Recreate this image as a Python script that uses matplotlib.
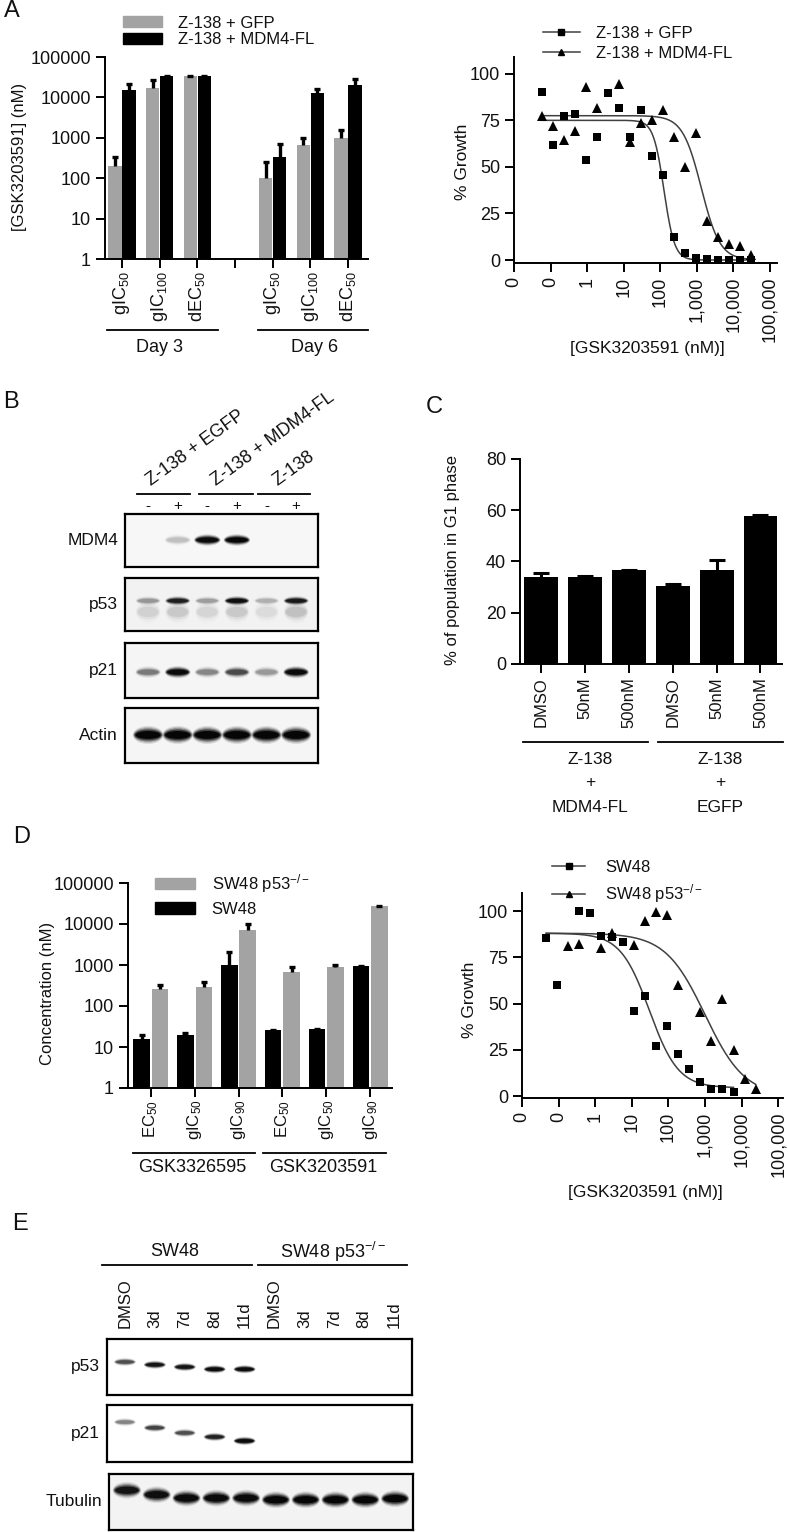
import numpy as np
import matplotlib
matplotlib.use('Agg')
import matplotlib.pyplot as plt
from matplotlib.patches import Ellipse, Patch
from matplotlib.lines import Line2D
from matplotlib.ticker import NullLocator, LogLocator

# ---------------- data ----------------
# A left: GSK3203591 potency in Z-138 cells (nM)
a_metrics = ['gIC$_{50}$', 'gIC$_{100}$', 'dEC$_{50}$']
a_days = ['Day 3', 'Day 6']
a_gfp = [204, 17000, 33000, 103, 660, 970]
a_gfp_hi = [330, 27700, 33000, 247, 1000, 1600]
a_mdm4 = [15500, 33000, 33000, 340, 12500, 20000]
a_mdm4_hi = [22000, 33000, 33000, 700, 16500, 29000]

# A right: dose response (nM, % growth)
a_dose = [0.057, 0.114, 0.229, 0.458, 0.916, 1.83, 3.66, 7.32, 14.6, 29.3,
          58.6, 117, 234, 469, 938, 1875, 3750, 7500, 15000, 30000]
a_gfp_growth = [90.3, 61.5, 77.4, 78.3, 53.8, 66.1, 89.6, 81.4, 65.8, 80.3,
                56.1, 45.5, 12.5, 3.9, 1.3, 0.4, 0.0, 0.0, 0.0, 0.0]
a_mdm4_dose = [0.057, 0.114, 0.229, 0.458, 0.916, 1.83, 7.32, 14.6, 29.3,
               58.6, 117, 234, 469, 938, 1875, 3750, 7500, 15000, 30000]
a_mdm4_growth = [77.1, 71.7, 64.5, 69.0, 92.8, 81.5, 94.6, 63.1, 73.8,
                 75.3, 80.6, 66.3, 50.2, 68.1, 21.0, 12.2, 8.4, 7.5, 2.5]
# fitted curves: top, bottom, logEC50, hill slope
a_gfp_fit = (75, 0, 2.1, 3.0)
a_mdm4_fit = (77.5, 0, 3.12, 1.7)
a_legend = ['Z-138 + GFP', 'Z-138 + MDM4-FL']

# B: western blot band strengths (0 = none, 1 = saturated)
b_groups = ['Z-138 + EGFP', 'Z-138 + MDM4-FL', 'Z-138']
b_treat = ['-', '+', '-', '+', '-', '+']
b_rows = ['MDM4', 'p53', 'p21', 'Actin']
b_mdm4 = [0, 0.12, 0.95, 1.0, 0, 0]
b_p53 = [0.22, 0.75, 0.2, 0.9, 0.15, 0.8]
b_p53_lower = [0.07, 0.09, 0.06, 0.09, 0.05, 0.11]
b_p21 = [0.32, 0.95, 0.28, 0.5, 0.22, 0.95]
b_actin = [1, 1, 1, 1, 1, 1]

# C: % of cells in G1
c_labels = ['DMSO', '50nM', '500nM', 'DMSO', '50nM', '500nM']
c_groups = [['Z-138', '+', 'MDM4-FL'], ['Z-138', '+', 'EGFP']]
c_values = [33.9, 33.9, 36.5, 30.6, 36.5, 57.6]
c_err = [1.6, 0.3, 0.3, 0.5, 4.2, 0.5]

# D left: concentrations (nM)
d_metrics = ['EC$_{50}$', 'gIC$_{50}$', 'gIC$_{90}$']
d_compounds = ['GSK3326595', 'GSK3203591']
d_sw48 = [15.7, 19.3, 1000, 25.5, 28, 930]
d_sw48_hi = [20, 22, 2080, 26, 28, 950]
d_null = [258, 290, 7000, 675, 890, 27000]
d_null_hi = [330, 377, 10000, 890, 980, 27000]
d_legend = ['SW48 p53$^{-/-}$', 'SW48']

# D right: dose response
d_sw48_dose = [0.046, 0.092, 0.366, 0.732, 1.46, 2.93, 5.86, 11.7, 23.4,
               46.9, 93.8, 188, 375, 750, 1500, 3000, 6000]
d_sw48_growth = [85.6, 60.3, 100, 99.1, 86.5, 86, 83.3, 45.9, 54.1,
                 27, 38, 23, 14.6, 7.4, 3.8, 3.6, 2.3]
d_null_dose = [0.183, 0.366, 1.46, 2.93, 11.7, 23.4, 46.9, 93.8, 188,
               750, 1500, 3000, 6000, 12000, 24000]
d_null_growth = [81, 82, 80.2, 88.1, 81.8, 94.4, 99.5, 97.7, 59.9,
                 45.5, 29.7, 52.3, 24.8, 9.5, 4.1]
d_sw48_fit = (88, 4.5, 1.48, 1.1)
d_null_fit = (88, 0, 3.0, 0.8)
d_curve_legend = ['SW48', 'SW48 p53$^{-/-}$']

# E: western blot
e_groups = ['SW48', 'SW48 p53$^{-/-}$']
e_lanes = ['DMSO', '3d', '7d', '8d', '11d'] * 2
e_rows = ['p53', 'p21', 'Tubulin']
e_p53 = [0.5, 0.85, 0.85, 0.95, 0.95, 0, 0, 0, 0, 0]
e_p21 = [0.3, 0.55, 0.5, 0.75, 0.95, 0, 0, 0, 0, 0]
e_tubulin = [0.85, 0.9, 0.95, 0.95, 0.95, 1, 1, 1, 1, 1]

# band heights inside each blot (fraction from bottom), layout only
E_P53_Y = [0.59, 0.54, 0.5, 0.46, 0.46, .5, .5, .5, .5, .5]
E_P21_Y = [0.70, 0.60, 0.51, 0.44, 0.37, .5, .5, .5, .5, .5]
E_TUB_Y = [0.71, 0.63, 0.57, 0.57, 0.57, 0.54, 0.54, 0.54, 0.54, 0.56]

# ---------------- style ----------------
plt.rcParams['font.family'] = ['Liberation Sans', 'DejaVu Sans']
plt.rcParams['mathtext.fontset'] = 'custom'
plt.rcParams['mathtext.rm'] = 'Liberation Sans'
plt.rcParams['mathtext.it'] = 'Liberation Sans:italic'
plt.rcParams['mathtext.bf'] = 'Liberation Sans:bold'
plt.rcParams['text.color'] = '#111111'
plt.rcParams['axes.linewidth'] = 1.4
for a in ('xtick', 'ytick'):
    plt.rcParams[a + '.major.width'] = 1.4
    plt.rcParams[a + '.major.size'] = 6.5
    plt.rcParams[a + '.labelsize'] = 13
    plt.rcParams[a + '.color'] = 'black'
    plt.rcParams[a + '.labelcolor'] = '#111111'

GREY = '#a3a3a3'
CURVE = '#404040'
W, H = 788, 1532

fig = plt.figure(figsize=(W / 100, H / 100), dpi=100)


def add_box(l, t, r, b):
    return fig.add_axes([l / W, 1 - b / H, (r - l) / W, (b - t) / H])


def put(x, y, s, **kw):
    kw.setdefault('ha', 'center')
    kw.setdefault('va', 'center')
    return fig.text(x / W, 1 - y / H, s, **kw)


def rule(x0, x1, y, lw=1.3):
    fig.add_artist(Line2D([x0 / W, x1 / W], [1 - y / H] * 2, color='black', lw=lw))


def clean(ax):
    ax.spines[['top', 'right']].set_visible(False)


def up_errors(ax, x, vals, his, capsize, lw):
    vals = np.asarray(vals, float)
    his = np.asarray(his, float)
    eb = ax.errorbar(x, vals, yerr=[np.zeros_like(vals), his - vals], fmt='none',
                     ecolor='black', elinewidth=lw, capsize=capsize, capthick=lw, zorder=3)
    for cl in eb[1]:
        if np.allclose(cl.get_ydata(), vals) and not np.allclose(his, vals):
            cl.set_visible(False)


def hill(dose, top, bottom, log_ec50, slope):
    return bottom + (top - bottom) / (1 + 10 ** ((np.log10(dose) - log_ec50) * slope))


def dose_axes(ax, top_lim):
    ax.set_xscale('log')
    ax.set_xlim(0.01, top_lim)
    ax.set_xticks([0.01, 0.1, 1, 10, 100, 1e3, 1e4, 1e5],
                  ['0', '0', '1', '10', '100', '1,000', '10,000', '100,000'], rotation=90)
    ax.xaxis.set_minor_locator(NullLocator())
    ax.set_yticks([0, 25, 50, 75, 100])
    clean(ax)


def blot(l, t, r, b, n, bg='white'):
    ax = add_box(l, t, r, b)
    ax.set_facecolor(bg)
    ax.set_xlim(0.22, n + 0.74)
    ax.set_ylim(0, 1)
    ax.set_xticks([])
    ax.set_yticks([])
    for s in ax.spines.values():
        s.set_linewidth(1.6)
    return ax


# soft band: stacked translucent ellipses (width scale, height scale, alpha)
BAND_LAYERS = [(1.06, 1.5, 0.10), (1.03, 1.3, 0.16), (1.0, 1.1, 0.28),
               (0.95, 0.9, 0.5), (0.88, 0.65, 0.9)]


def bands(ax, strengths, ys, width, thick):
    for i, (s, y) in enumerate(zip(strengths, ys)):
        if s <= 0:
            continue
        for ws, hs, a in BAND_LAYERS:
            ax.add_patch(Ellipse((i + 1, y), width * ws, thick * hs, facecolor='black',
                                 alpha=min(1.0, a * s), lw=0))


def row_label(ax, s, dx=-5):
    ax.annotate(s, (0, 0.5), xycoords='axes fraction', xytext=(dx, 0),
                textcoords='offset points', ha='right', va='center', fontsize=12.5)


# ---------------- A left ----------------
ax = add_box(105, 57, 368, 259)
ax.set_yscale('log')
pos = np.concatenate([np.arange(3), np.arange(3) + 4])
ax.bar(pos - 0.185, a_gfp, 0.35, color=GREY, zorder=2)
ax.bar(pos + 0.185, a_mdm4, 0.35, color='black', zorder=2)
up_errors(ax, pos - 0.185, a_gfp, a_gfp_hi, 2, 2.4)
up_errors(ax, pos + 0.185, a_mdm4, a_mdm4_hi, 2, 2.4)
ax.set_ylim(1, 1e5)
ax.set_xlim(-0.45, 6.53)
ax.set_yticks([1, 10, 100, 1000, 10000, 100000],
              ['1', '10', '100', '1000', '10000', '100000'])
ax.yaxis.set_minor_locator(NullLocator())
ax.set_xticks(range(7), a_metrics + [''] + a_metrics, rotation=90)
ax.tick_params(axis='x', pad=2)
clean(ax)
ax.legend([Patch(color=GREY), Patch(color='black')], a_legend,
          loc='upper left', bbox_to_anchor=(123 / W, 1 - 15.5 / H), bbox_transform=fig.transFigure,
          frameon=False, borderpad=0, borderaxespad=0, handlelength=2.35, handleheight=0.6,
          handletextpad=0.95, labelspacing=0.1, fontsize=12)
put(20, 157, '[GSK3203591] (nM)', rotation=90, fontsize=12)
rule(107, 218, 330)
rule(258, 368, 330)
put(160, 348, a_days[0], fontsize=13)
put(315, 348, a_days[1], fontsize=13)
put(12, 11, 'A', fontsize=17)

# ---------------- A right ----------------
ax = add_box(514, 57, 777, 262.8)
dose_axes(ax, 10 ** 5.19)
ax.set_ylim(-1.5, 109)
for d, fit in ((a_dose, a_gfp_fit), (a_mdm4_dose, a_mdm4_fit)):
    xs = np.geomspace(min(d), max(d), 300)
    ax.plot(xs, hill(xs, *fit), color=CURVE, lw=1.1, zorder=2)
ax.plot(a_dose, a_gfp_growth, 's', color='black', ms=5.5, mew=0, zorder=3)
ax.plot(a_mdm4_dose, a_mdm4_growth, '^', color='black', ms=6.5, mew=0, zorder=3)
hs = [Line2D([], [], color=CURVE, lw=1.1, marker='s', mfc='black', mec='black', ms=4),
      Line2D([], [], color=CURVE, lw=1.1, marker='^', mfc='black', mec='black', ms=4.5)]
ax.legend(hs, a_legend, loc='upper left', bbox_to_anchor=(543 / W, 1 - 25.5 / H),
          bbox_transform=fig.transFigure, frameon=False, borderpad=0, borderaxespad=0,
          handlelength=2.2, handletextpad=1.0, labelspacing=0.3, fontsize=12)
put(463, 162, '% Growth', rotation=90, fontsize=12.5)
put(647, 348, '[GSK3203591 (nM)]', fontsize=12.5)

# ---------------- B ----------------
put(11, 402, 'B', fontsize=17)
bx = [blot(125, 514, 318, 567, 6, '#f7f7f7'), blot(125, 578, 318, 631, 6, '#f2f2f2'),
      blot(125, 643, 318, 698, 6, '#f5f5f5'), blot(125, 708, 318, 763, 6, '#f5f5f5')]
bands(bx[0], b_mdm4, [0.51] * 6, 0.85, 0.15)
bands(bx[1], b_p53_lower, [0.36] * 6, 0.8, 0.3)
bands(bx[1], b_p53, [0.57] * 6, 0.8, 0.12)
bands(bx[2], b_p21, [0.47] * 6, 0.82, 0.15)
bands(bx[3], b_actin, [0.51] * 6, 0.97, 0.22)
for a_, s in zip(bx, b_rows):
    row_label(a_, s)
bx[0].set_xticks(range(1, 7), b_treat)
bx[0].tick_params(axis='x', top=True, bottom=False, labeltop=True, labelbottom=False,
                  length=0, pad=1, labelsize=11)
rule(137, 190, 494)
rule(199, 253, 494)
rule(258, 310, 494)
for (x0, y0), s in zip([(153, 489), (218, 489), (280, 489)], b_groups):
    put(x0, y0, s, rotation=36, rotation_mode='anchor', ha='left', va='bottom', fontsize=13)

# ---------------- C ----------------
put(434, 407, 'C', fontsize=17)
ax = add_box(520, 459, 782, 664)
xc = np.arange(len(c_values))
ax.bar(xc, c_values, 0.77, color='black', zorder=2)
up_errors(ax, xc, c_values, np.add(c_values, c_err), 5.5, 2.2)
ax.set_ylim(0, 80)
ax.set_xlim(-0.48, 5.49)
ax.set_yticks([0, 20, 40, 60, 80])
ax.set_xticks(xc, c_labels, rotation=90, fontsize=12)
ax.tick_params(axis='x', pad=3)
clean(ax)
put(453, 560, '% of population in G1 phase', rotation=90, fontsize=12)
rule(523, 648, 742)
rule(658, 783, 742)
for xg, lines in zip([590, 720], c_groups):
    for yl, s in zip([760, 783, 807], lines):
        put(xg, yl, s, fontsize=12.5)

# ---------------- D left ----------------
put(22, 837, 'D', fontsize=17)
ax = add_box(128, 883, 392, 1088)
ax.set_yscale('log')
xd = np.arange(6)
ax.bar(xd - 0.21, d_sw48, 0.38, color='black', zorder=2)
ax.bar(xd + 0.21, d_null, 0.38, color=GREY, zorder=2)
up_errors(ax, xd - 0.21, d_sw48, d_sw48_hi, 2, 2.4)
up_errors(ax, xd + 0.21, d_null, d_null_hi, 2, 2.4)
ax.set_ylim(1, 1e5)
ax.set_xlim(-0.52, 5.5)
ax.set_yticks([1, 10, 100, 1000, 10000, 100000],
              ['1', '10', '100', '1000', '10000', '100000'])
ax.yaxis.set_minor_locator(LogLocator(subs=np.arange(2, 10)))
ax.tick_params(axis='y', which='minor', length=3.5, width=1.0)
ax.set_xticks(xd, d_metrics * 2, rotation=90, fontsize=12)
ax.tick_params(axis='x', pad=2)
clean(ax)
ax.legend([Patch(color=GREY), Patch(color='black')], d_legend, loc='upper left',
          bbox_to_anchor=(155 / W, 1 - 872 / H), bbox_transform=fig.transFigure,
          frameon=False, borderpad=0, borderaxespad=0, handlelength=2.4, handleheight=0.7,
          handletextpad=1.0, labelspacing=0.4, fontsize=12)
put(48, 993, 'Concentration (nM)', rotation=90, fontsize=12)
rule(133, 255, 1153)
rule(263, 386, 1153)
put(192, 1168, d_compounds[0], fontsize=13)
put(323, 1168, d_compounds[1], fontsize=13)

# ---------------- D right ----------------
ax = add_box(522, 892.5, 783, 1098)
dose_axes(ax, 10 ** 5.13)
ax.set_ylim(-1, 110)
for d, fit in ((d_sw48_dose, d_sw48_fit), (d_null_dose, d_null_fit)):
    xs = np.geomspace(min(d_sw48_dose[0], d_null_dose[0]), max(d), 300)
    ax.plot(xs, hill(xs, *fit), color=CURVE, lw=1.1, zorder=2)
ax.plot(d_sw48_dose, d_sw48_growth, 's', color='black', ms=5.5, mew=0, zorder=3)
ax.plot(d_null_dose, d_null_growth, '^', color='black', ms=6.5, mew=0, zorder=3)
hs = [Line2D([], [], color=CURVE, lw=1.1, marker='s', mfc='black', mec='black', ms=4),
      Line2D([], [], color=CURVE, lw=1.1, marker='^', mfc='black', mec='black', ms=4.5)]
ax.legend(hs, d_curve_legend, loc='upper left', bbox_to_anchor=(552 / W, 1 - 860 / H),
          bbox_transform=fig.transFigure, frameon=False, borderpad=0, borderaxespad=0,
          handlelength=2.0, handletextpad=1.2, labelspacing=0.45, fontsize=12)
put(470, 1000, '% Growth', rotation=90, fontsize=12.5)
put(645, 1193, '[GSK3203591 (nM)]', fontsize=12.5)

# ---------------- E ----------------
put(20, 1224, 'E', fontsize=17)
ex = [add_box(107, 1339, 412, 1395), add_box(107, 1405, 412, 1462), add_box(109, 1474, 413, 1530)]
for a_ in ex:
    a_.set_xlim(0.4, 10.6)
    a_.set_ylim(0, 1)
    a_.set_xticks([])
    a_.set_yticks([])
    for s in a_.spines.values():
        s.set_linewidth(1.6)
ex[2].set_facecolor('#f3f3f3')
bands(ex[0], e_p53, E_P53_Y, 0.7, 0.1)
bands(ex[1], e_p21, E_P21_Y, 0.7, 0.1)
bands(ex[2], e_tubulin, E_TUB_Y, 0.9, 0.2)
for a_, s in zip(ex, e_rows):
    row_label(a_, s)
ex[0].set_xticks(range(1, 11), e_lanes, rotation=90)
ex[0].tick_params(axis='x', top=True, bottom=False, labeltop=True, labelbottom=False,
                  length=0, pad=8, labelsize=12)
rule(102, 252, 1265)
rule(258, 407, 1265)
put(175, 1252, e_groups[0], fontsize=13)
put(333, 1252, e_groups[1], fontsize=13)

fig.savefig('out.png', dpi=100)
